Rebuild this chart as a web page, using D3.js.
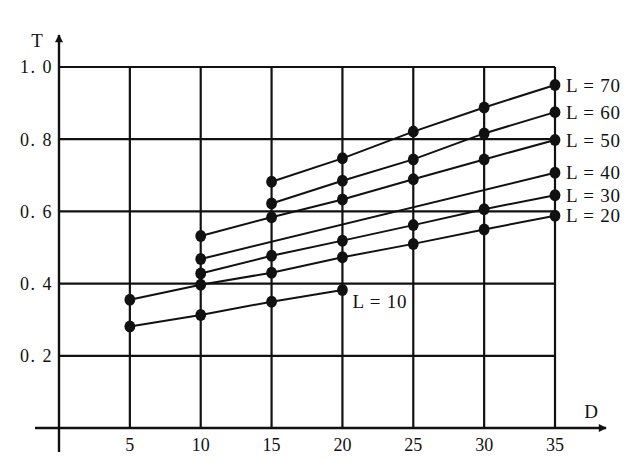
<!DOCTYPE html>
<html>
<head>
<meta charset="utf-8">
<script src="https://cdn.jsdelivr.net/npm/d3@7"></script>
<style>
  body { margin: 0; background: #fff; }
  text { font-family: "Liberation Serif", "DejaVu Serif", serif; fill: #111; }
</style>
</head>
<body>
<div id="chart"></div>
<script>
var dTicks = [5, 10, 15, 20, 25, 30, 35];
var tTicks = [0.2, 0.4, 0.6, 0.8, 1.0];
var tTickLabels = ["0. 2", "0. 4", "0. 6", "0. 8", "1. 0"];

var seriesL = [10, 20, 30, 40, 50, 60, 70];
var seriesD = [
    [5, 10, 15, 20],
    [5, 10, 15, 20, 25, 30, 35],
    [10, 15, 20, 25, 30, 35],
    [10, 35],
    [10, 15, 20, 25, 30, 35],
    [15, 20, 25, 30, 35],
    [15, 20, 25, 30, 35]
];
var seriesT = [
    [0.281, 0.313, 0.35, 0.382],
    [0.355, 0.397, 0.43, 0.473, 0.51, 0.55, 0.588],
    [0.428, 0.477, 0.519, 0.562, 0.606, 0.645],
    [0.468, 0.707],
    [0.532, 0.584, 0.633, 0.689, 0.744, 0.798],
    [0.622, 0.685, 0.744, 0.816, 0.875],
    [0.682, 0.747, 0.821, 0.888, 0.95]
];

var width = 640;
var height = 471;
var ink = "#111";

var x = d3.scaleLinear().domain([0, 35]).range([59, 555]);
var y = d3.scaleLinear().domain([0, 1]).range([428, 67]);

var svg = d3.select("#chart")
    .append("svg")
    .attr("width", width)
    .attr("height", height);

// grid
var grid = svg.append("g").attr("class", "grid");
grid.selectAll(".hgrid")
    .data(tTicks)
    .enter()
    .append("line")
    .attr("x1", x(0))
    .attr("x2", x(35))
    .attr("y1", function(d){ return y(d); })
    .attr("y2", function(d){ return y(d); })
    .attr("stroke", ink)
    .attr("stroke-width", 2.2);

grid.selectAll(".vgrid")
    .data(dTicks)
    .enter()
    .append("line")
    .attr("x1", function(d){ return x(d); })
    .attr("x2", function(d){ return x(d); })
    .attr("y1", y(1))
    .attr("y2", y(0))
    .attr("stroke", ink)
    .attr("stroke-width", 2.2);

// axes with arrows
svg.append("defs").append("marker")
    .attr("id", "arrow")
    .attr("viewBox", "0 0 10 10")
    .attr("refX", 9)
    .attr("refY", 5)
    .attr("markerWidth", 11)
    .attr("markerHeight", 8)
    .attr("markerUnits", "userSpaceOnUse")
    .attr("orient", "auto")
    .append("path")
    .attr("d", "M0,0 L10,5 L0,10 Z")
    .attr("fill", ink);

svg.append("line")
    .attr("x1", 35).attr("x2", 606)
    .attr("y1", y(0)).attr("y2", y(0))
    .attr("stroke", ink)
    .attr("stroke-width", 2.4)
    .attr("marker-end", "url(#arrow)");

svg.append("line")
    .attr("x1", x(0)).attr("x2", x(0))
    .attr("y1", 452).attr("y2", 35)
    .attr("stroke", ink)
    .attr("stroke-width", 2.4)
    .attr("marker-end", "url(#arrow)");

// tick labels
svg.selectAll(".xlab")
    .data(dTicks)
    .enter()
    .append("text")
    .attr("x", function(d){ return x(d); })
    .attr("y", 451)
    .attr("text-anchor", "middle")
    .style("font-size", "18px")
    .text(function(d){ return d; });

svg.selectAll(".ylab")
    .data(tTicks)
    .enter()
    .append("text")
    .attr("x", 53)
    .attr("y", function(d){ return y(d); })
    .attr("dy", "0.35em")
    .attr("text-anchor", "end")
    .style("font-size", "18px")
    .style("letter-spacing", "1.5px")
    .text(function(d, i){ return tTickLabels[i]; });

svg.append("text")
    .attr("x", 37).attr("y", 47)
    .attr("text-anchor", "middle")
    .style("font-size", "19px")
    .text("T");

svg.append("text")
    .attr("x", 591).attr("y", 418)
    .attr("text-anchor", "middle")
    .style("font-size", "19px")
    .text("D");

// series
var series = seriesL.map(function(l, i){
    return {
        L: l,
        points: seriesD[i].map(function(d, j){ return {d: d, t: seriesT[i][j]}; })
    };
});

var line = d3.line()
    .x(function(p){ return x(p.d); })
    .y(function(p){ return y(p.t); });

var sg = svg.selectAll(".series")
    .data(series)
    .enter()
    .append("g")
    .attr("class", "series");

sg.append("path")
    .attr("d", function(s){ return line(s.points); })
    .attr("fill", "none")
    .attr("stroke", ink)
    .attr("stroke-width", 2);

sg.selectAll("ellipse")
    .data(function(s){ return s.points; })
    .enter()
    .append("ellipse")
    .attr("cx", function(p){ return x(p.d); })
    .attr("cy", function(p){ return y(p.t); })
    .attr("rx", 5.4)
    .attr("ry", 6)
    .attr("fill", ink);

sg.append("text")
    .attr("x", function(s){
        var last = s.points[s.points.length - 1];
        return x(last.d) + (s.L === 10 ? 10 : 11);
    })
    .attr("y", function(s){
        var last = s.points[s.points.length - 1];
        return y(last.t) + (s.L === 10 ? 11 : 0);
    })
    .attr("dy", "0.35em")
    .style("font-size", "19px")
    .style("letter-spacing", "0.8px")
    .text(function(s){ return "L = " + s.L; });
</script>
</body>
</html>
